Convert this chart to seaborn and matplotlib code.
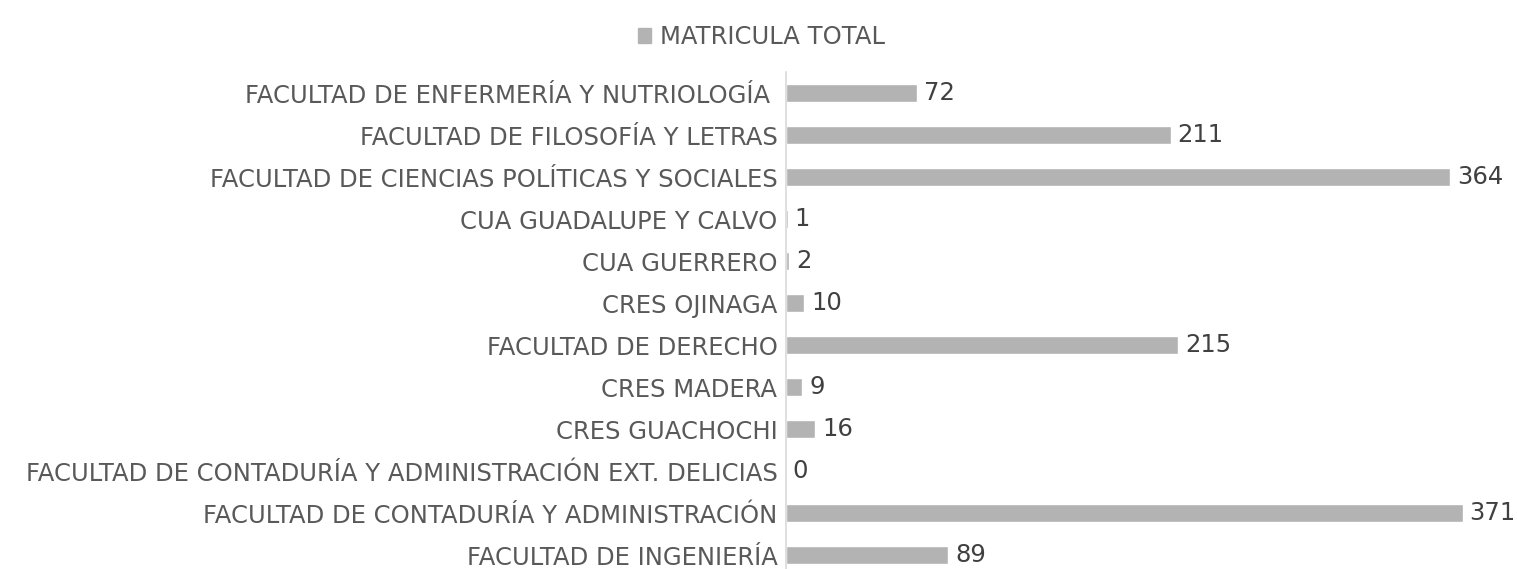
import matplotlib
matplotlib.use("Agg")
import matplotlib.pyplot as plt
import seaborn as sns
import pandas as pd
from matplotlib.patches import Patch

facultades = [
    "FACULTAD DE ENFERMERÍA Y NUTRIOLOGÍA ",
    "FACULTAD DE FILOSOFÍA Y LETRAS",
    "FACULTAD DE CIENCIAS POLÍTICAS Y SOCIALES",
    "CUA GUADALUPE Y CALVO",
    "CUA GUERRERO",
    "CRES OJINAGA",
    "FACULTAD DE DERECHO",
    "CRES MADERA",
    "CRES GUACHOCHI",
    "FACULTAD DE CONTADURÍA Y ADMINISTRACIÓN EXT. DELICIAS",
    "FACULTAD DE CONTADURÍA Y ADMINISTRACIÓN",
    "FACULTAD DE INGENIERÍA",
]
matricula = [72, 211, 364, 1, 2, 10, 215, 9, 16, 0, 371, 89]

BAR_COLOR = "#b3b3b3"
TEXT_COLOR = "#595959"
FS = 17.5

df = pd.DataFrame({"facultad": facultades, "matricula": matricula})

sns.set_style("white")
plt.rcParams["font.family"] = ["DejaVu Sans"]

fig = plt.figure(figsize=(15.17, 5.69), dpi=100)
ax = fig.add_axes([0.518, -0.0123, 0.481, 0.885])

sns.barplot(data=df, x="matricula", y="facultad", orient="h",
            color=BAR_COLOR, width=0.43, saturation=1, ax=ax)

for c in ax.containers:
    ax.bar_label(c, labels=[str(v) for v in matricula], padding=5,
                 fontsize=FS, color="#404040")

ax.set_xlim(0, 400)
ax.set_ylim(11.5, -0.5)
ax.set_xlabel("")
ax.set_ylabel("")
ax.set_xticks([])
ax.tick_params(axis="y", length=0, pad=6, labelsize=FS, labelcolor=TEXT_COLOR)
for s in ["top", "right", "bottom"]:
    ax.spines[s].set_visible(False)
ax.spines["left"].set_color("#d9d9d9")
ax.spines["left"].set_linewidth(1.2)

fig.legend(handles=[Patch(color=BAR_COLOR, label="MATRICULA TOTAL")],
           loc="center", bbox_to_anchor=(0.502, 0.935), frameon=False,
           fontsize=FS, labelcolor=TEXT_COLOR, handlelength=0.55,
           handleheight=0.55, handletextpad=0.35)

fig.savefig("out.png", dpi=100)
